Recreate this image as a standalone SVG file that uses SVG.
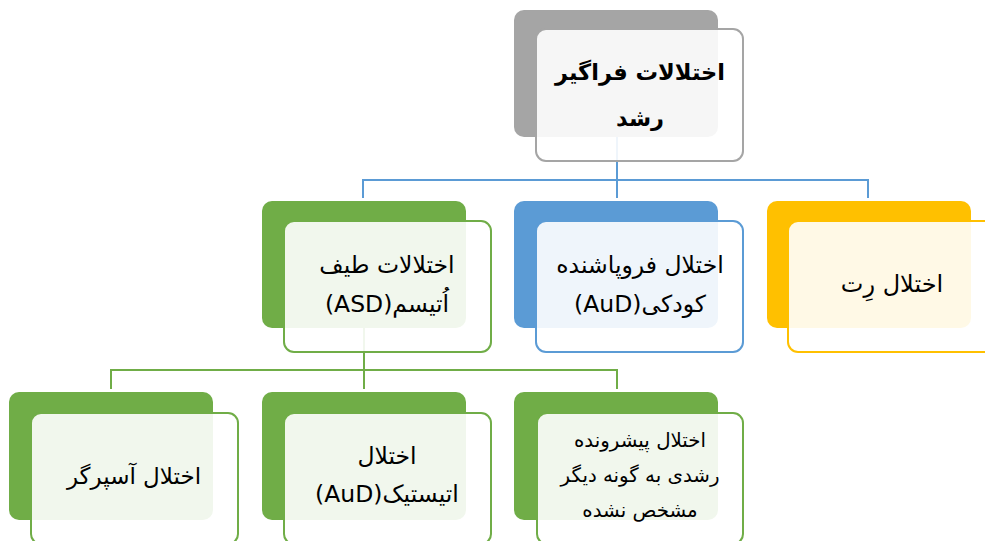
<svg xmlns="http://www.w3.org/2000/svg" width="985" height="541" viewBox="0 0 985 541">
<style>
.t{font-family:"DejaVu Sans","Noto Sans",sans-serif;fill:#000;text-anchor:middle;direction:rtl}
.fr{fill:#fff;fill-opacity:0.9;stroke-width:2}
.gray .bk{fill:#a5a5a5}.gray .fr{stroke:#a5a5a5}
.green .bk{fill:#70ad47}.green .fr{stroke:#70ad47}
.blue .bk{fill:#5b9bd5}.blue .fr{stroke:#5b9bd5}
.orange .bk{fill:#ffc000}.orange .fr{stroke:#ffc000}
.cb{fill:none;stroke:#5b9bd5;stroke-width:2}
.cg{fill:none;stroke:#70ad47;stroke-width:2}
</style>
<rect width="985" height="541" fill="#fff"/>
<g id="connectors">
<path class="cb" d="M617 137V180M363 198V180H868V198M617 180V198"/>
<path class="cg" d="M364 328V370M111 389V370H617V389M364 370V389"/>
</g>
<g id="n-root" class="gray">
<rect class="bk" x="514" y="10" width="204" height="127" rx="10"/>
<rect class="fr" x="536" y="29" width="207" height="132" rx="10"/>
<text class="t" x="640" y="80" font-size="22.5" font-weight="bold">اختلالات فراگیر</text>
<text class="t" x="640" y="126" font-size="22.5" font-weight="bold">رشد</text>
</g>
<g id="n-asd" class="green">
<rect class="bk" x="262" y="201" width="204" height="127" rx="10"/>
<rect class="fr" x="284" y="221" width="207" height="131" rx="10"/>
<text class="t" x="387" y="273" font-size="23.5">اختلالات طیف</text>
<text class="t" x="387" y="312" font-size="23.5">اُتیسم(ASD)</text>
</g>
<g id="n-cdd" class="blue">
<rect class="bk" x="514" y="201" width="204" height="127" rx="10"/>
<rect class="fr" x="536" y="221" width="207" height="131" rx="10"/>
<text class="t" x="640" y="273" font-size="23.5">اختلال فروپاشنده</text>
<text class="t" x="640" y="312" font-size="23.5">کودکی(AuD)</text>
</g>
<g id="n-rett" class="orange">
<rect class="bk" x="767" y="201" width="204" height="127" rx="10"/>
<rect class="fr" x="788" y="221" width="207" height="131" rx="10"/>
<text class="t" x="892" y="292" font-size="24">اختلال رِت</text>
</g>
<g id="n-asperger" class="green">
<rect class="bk" x="9" y="392" width="204" height="128" rx="10"/>
<rect class="fr" x="31" y="413" width="207" height="131" rx="10"/>
<text class="t" x="134" y="484" font-size="23">اختلال آسپرگر</text>
</g>
<g id="n-autistic" class="green">
<rect class="bk" x="262" y="392" width="204" height="128" rx="10"/>
<rect class="fr" x="284" y="413" width="207" height="131" rx="10"/>
<text class="t" x="387" y="464" font-size="23.5">اختلال</text>
<text class="t" x="387" y="502" font-size="23.5">اتیستیک(AuD)</text>
</g>
<g id="n-pdd" class="green">
<rect class="bk" x="514" y="392" width="204" height="128" rx="10"/>
<rect class="fr" x="537" y="413" width="206" height="131" rx="10"/>
<text class="t" x="640" y="447" font-size="19.8">اختلال پیشرونده</text>
<text class="t" x="640" y="482" font-size="19.8">رشدی به گونه دیگر</text>
<text class="t" x="640" y="517" font-size="19.8">مشخص نشده</text>
</g>
</svg>
